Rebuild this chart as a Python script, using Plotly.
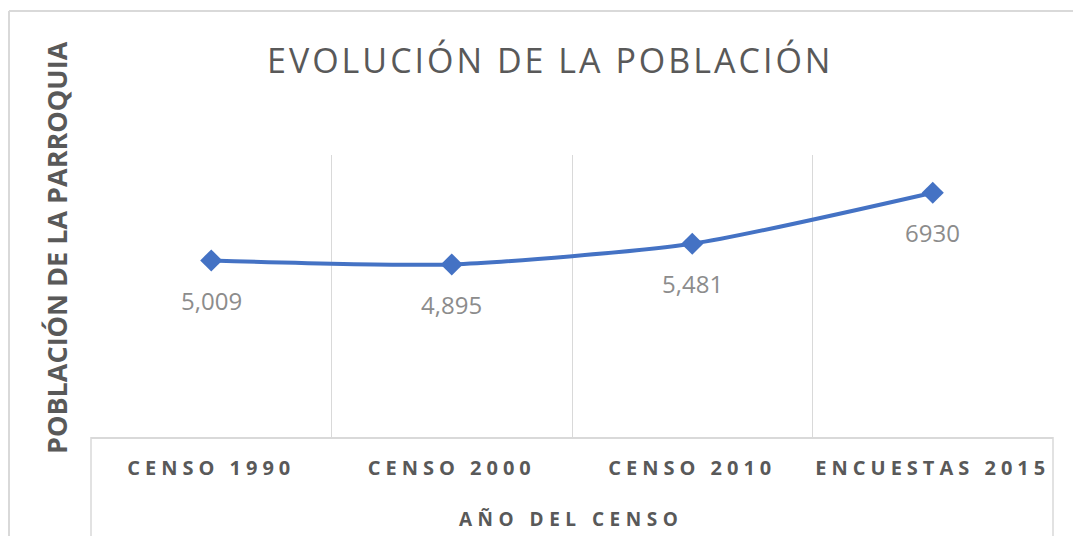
import plotly.graph_objects as go

categories = ["CENSO 1990", "CENSO 2000", "CENSO 2010", "ENCUESTAS 2015"]
population = [5009, 4895, 5481, 6930]
labels = ["5,009", "4,895", "5,481", "6930"]

title_text = "EVOLUCIÓN DE LA POBLACIÓN"
x_title = "AÑO DEL CENSO"
y_title = "POBLACIÓN DE LA PARROQUIA"

OFF = 8  # page body margin
W, H = 1081 - OFF, 536 - OFF
# plot area in screen pixels: x 91..1053, y 155..437
L, R, T, B = 91 - OFF, 1081 - 1053, 155 - OFF, 536 - 437
pw, ph = W - L - R, H - T - B

def px_x(px):
    return (px - OFF - L) / pw

def px_y(py):
    return (H - B - (py - OFF)) / ph

def spaced(s, sp):
    return f'<span style="letter-spacing:{sp}px">{s}</span>'

fig = go.Figure()
fig.add_trace(go.Scatter(
    x=categories, y=population, mode="lines+markers",
    line=dict(color="#4472C4", width=4, shape="spline", smoothing=0.6),
    marker=dict(symbol="diamond", size=17, color="#4472C4"),
    hoverinfo="skip", showlegend=False,
))

for c, v, t in zip(categories, population, labels):
    fig.add_annotation(x=c, y=v, text=t, showarrow=False, yshift=-40,
                       xanchor="center", yanchor="middle",
                       font=dict(family="Open Sans", size=24, color="#8c8c8c"))

grid = "#d9d9d9"
fig.update_layout(
    width=W, height=H,
    margin=dict(l=L, r=R, t=T, b=B, autoexpand=False),
    paper_bgcolor="white", plot_bgcolor="white",
    xaxis=dict(
        type="category", tickson="boundaries", showgrid=True, gridcolor=grid, gridwidth=1,
        showline=True, linecolor=grid, linewidth=2, ticks="",
        range=[-0.5, 3.5], tickangle=0, automargin=False,
        tickmode="array", tickvals=categories,
        ticktext=[spaced(c, 5) for c in categories],
        tickfont=dict(family="Open Sans", size=20, color="#595959", weight="bold"),
        ticklabelstandoff=12,
    ),
    yaxis=dict(range=[0, 8000], showgrid=False, showticklabels=False, zeroline=False,
               showline=False, ticks="", automargin=False),
)

# Titles
fig.add_annotation(xref="paper", yref="paper", x=px_x(550), y=px_y(60), text=spaced(title_text, 3),
                   xanchor="center", yanchor="middle",
                   showarrow=False, font=dict(family="Open Sans", size=34, color="#595959"))
fig.add_annotation(xref="paper", yref="paper", x=px_x(571), y=px_y(519), text=spaced(x_title, 5.5),
                   xanchor="center", yanchor="middle",
                   showarrow=False, font=dict(family="Open Sans", size=19, color="#595959", weight="bold"))
fig.add_annotation(xref="paper", yref="paper", x=px_x(56), y=px_y(248), text=y_title,
                   xanchor="center", yanchor="middle",
                   textangle=-90, showarrow=False,
                   font=dict(family="Open Sans", size=27, color="#595959", weight="bold"))

# Frame lines
shapes = [
    dict(type="line", xref="paper", yref="paper", x0=px_x(9), x1=px_x(1090), y0=px_y(11), y1=px_y(11),
         line=dict(color=grid, width=2)),
    dict(type="line", xref="paper", yref="paper", x0=px_x(9), x1=px_x(9), y0=px_y(11), y1=px_y(545),
         line=dict(color=grid, width=2)),
    dict(type="line", xref="paper", yref="paper", x0=0, x1=0, y0=0, y1=px_y(545),
         line=dict(color=grid, width=1.5)),
    dict(type="line", xref="paper", yref="paper", x0=1, x1=1, y0=0, y1=px_y(545),
         line=dict(color=grid, width=1.5)),
]
fig.update_layout(shapes=shapes)

fig.write_html("out.html")
